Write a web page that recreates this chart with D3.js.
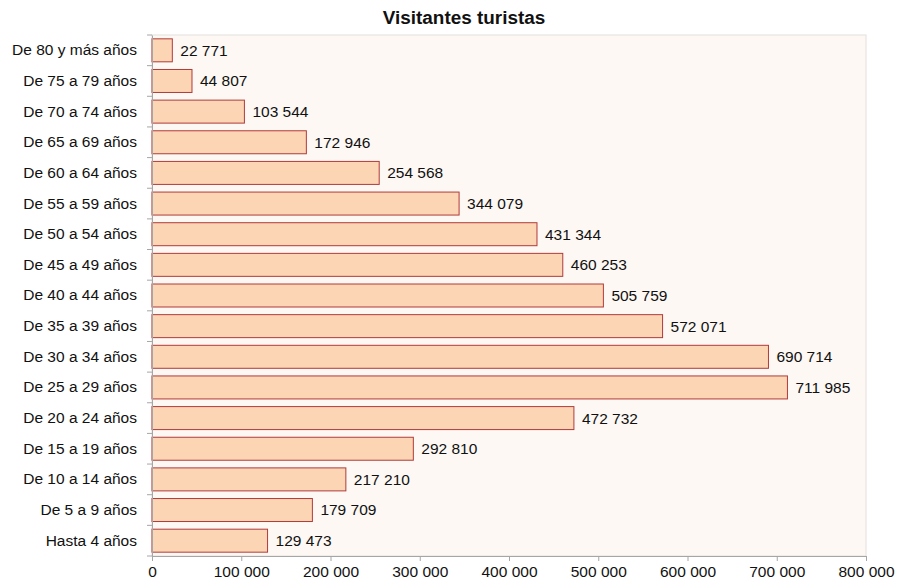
<!DOCTYPE html>
<html>
<head>
<meta charset="UTF-8" />
<title>Visitantes turistas</title>
<script src="https://cdn.jsdelivr.net/npm/d3@7"></script>
<style>
  body { margin: 0; background: #fff; }
  svg { font-family: "Liberation Sans", Arial, sans-serif; }
</style>
</head>
<body>
<svg width="898" height="581"></svg>
<script>
const categories = [
  "De 80 y más años", "De 75 a 79 años", "De 70 a 74 años", "De 65 a 69 años",
  "De 60 a 64 años", "De 55 a 59 años", "De 50 a 54 años", "De 45 a 49 años",
  "De 40 a 44 años", "De 35 a 39 años", "De 30 a 34 años", "De 25 a 29 años",
  "De 20 a 24 años", "De 15 a 19 años", "De 10 a 14 años", "De 5 a 9 años",
  "Hasta 4 años"
];
const values = [
  22771, 44807, 103544, 172946, 254568, 344079, 431344, 460253,
  505759, 572071, 690714, 711985, 472732, 292810, 217210, 179709, 129473
];
const xTicks = [0, 100000, 200000, 300000, 400000, 500000, 600000, 700000, 800000];

const fmt = (v) => d3.format(",")(v).replace(/,/g, " ");

const svg = d3.select("svg");
const m = { left: 152, right: 866, top: 35, bottom: 556 };
const fs = 15.5;

const x = d3.scaleLinear().domain([0, 800000]).range([m.left, m.right]);
const y = d3.scaleBand().domain(categories).range([m.top, m.bottom]).paddingInner(0.25).paddingOuter(0.125);

// plot background
svg.append("rect")
  .attr("x", m.left).attr("y", m.top)
  .attr("width", m.right - m.left).attr("height", m.bottom - m.top)
  .attr("fill", "#fdf8f4")
  .attr("stroke", "#e4e0dc");

// title
svg.append("text")
  .attr("x", 464).attr("y", 24)
  .attr("text-anchor", "middle")
  .attr("font-weight", "bold").attr("font-size", 18.9)
  .attr("fill", "#111")
  .text("Visitantes turistas");

// bars
svg.selectAll("rect.bar").data(values).enter().append("rect")
  .attr("class", "bar")
  .attr("x", x(0))
  .attr("y", (d, i) => y(categories[i]))
  .attr("width", (d) => x(d) - x(0))
  .attr("height", y.bandwidth())
  .attr("fill", "#fcd5b4")
  .attr("stroke", "#b03a3a")
  .attr("stroke-width", 1);

// value labels
svg.selectAll("text.val").data(values).enter().append("text")
  .attr("class", "val")
  .attr("x", (d) => x(d) + 8)
  .attr("y", (d, i) => y(categories[i]) + y.bandwidth() / 2)
  .attr("dy", "0.35em")
  .attr("font-size", fs)
  .attr("fill", "#111")
  .text((d) => fmt(d));

// x axis
const xAxis = svg.append("g")
  .attr("transform", `translate(0,${m.bottom})`)
  .call(d3.axisBottom(x).tickValues(xTicks).tickFormat(fmt).tickSize(5).tickPadding(5).tickSizeOuter(0));
xAxis.select(".domain").attr("stroke", "#a6a6a6");
xAxis.selectAll(".tick line").attr("stroke", "#a6a6a6");
xAxis.selectAll(".tick text").attr("font-size", fs).attr("fill", "#111")
  .attr("font-family", "Liberation Sans, Arial, sans-serif");

// y axis
const yAxis = svg.append("g")
  .attr("transform", `translate(${m.left},0)`)
  .call(d3.axisLeft(y).tickSize(0).tickPadding(15));
yAxis.select(".domain").attr("stroke", "#a6a6a6");
yAxis.selectAll(".tick text").attr("font-size", fs).attr("fill", "#111")
  .attr("font-family", "Liberation Sans, Arial, sans-serif");

// y tick marks at band boundaries
const bounds = d3.range(categories.length + 1).map((i) => m.top + i * ((m.bottom - m.top) / categories.length));
svg.append("g").selectAll("line").data(bounds).enter().append("line")
  .attr("x1", m.left - 5).attr("x2", m.left)
  .attr("y1", (d) => d).attr("y2", (d) => d)
  .attr("stroke", "#a6a6a6");
</script>
</body>
</html>
